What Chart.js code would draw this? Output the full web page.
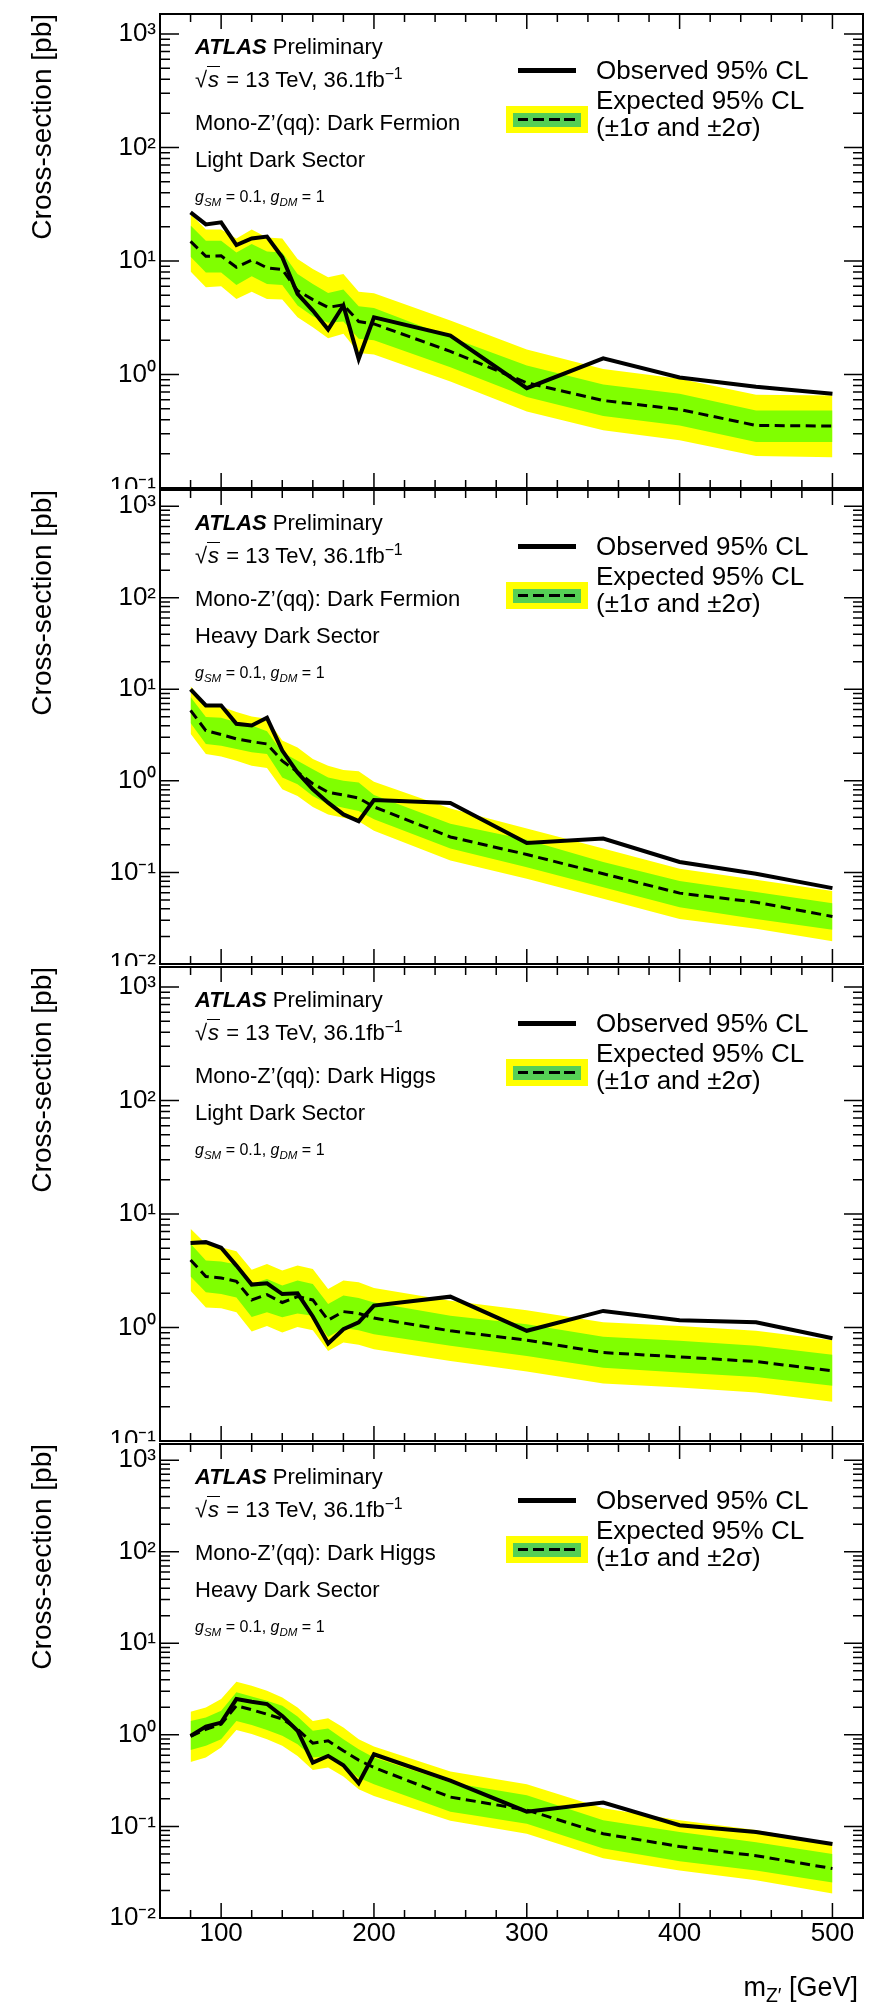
<!DOCTYPE html>
<html>
<head>
<meta charset="utf-8">
<title>Mono-Z'(qq) cross-section limits</title>
<script src="https://cdn.jsdelivr.net/npm/chart.js@4.4.1/dist/chart.umd.min.js"></script>
<style>
  body { margin: 0; background: #fff; }
  #page { position: relative; width: 878px; height: 2003px; overflow: hidden; background: #fff;
          font-family: "Liberation Sans", Arial, Helvetica, sans-serif; color: #000; }
  #page canvas { position: absolute; left: 0; }
  .txt { position: absolute; line-height: 1; white-space: nowrap; }
  .txt sub, .txt sup { font-size: 0.72em; line-height: 0; }
  .swatch { position: absolute; }
</style>
</head>
<body>
<div id="page"></div>
<script>
// mass points (GeV) and axis ticks
const massPoints = [80, 90, 100, 110, 120, 130, 140, 150, 160, 170, 180, 190, 200, 250, 300, 350, 400, 450, 500];
const xTickValues = [100, 200, 300, 400, 500];

// Dark Fermion, light dark sector
const obsFermionLight = [26.8, 21.0, 21.9, 13.8, 15.8, 16.4, 10.8, 5.13, 3.66, 2.49, 4.05, 1.37, 3.19, 2.20, 0.758, 1.39, 0.94, 0.78, 0.676];
const expFermionLight = [14.9, 11.0, 11.1, 8.8, 10.2, 8.7, 8.4, 5.48, 4.57, 3.91, 4.10, 2.93, 2.79, 1.60, 0.845, 0.59, 0.492, 0.356, 0.351];
const up1FermionLight = [20.5, 15.1, 15.1, 11.9, 14.1, 12.1, 11.9, 7.69, 6.28, 5.23, 5.6, 3.99, 3.85, 2.13, 1.20, 0.817, 0.676, 0.482, 0.482];
const dn1FermionLight = [10.9, 7.9, 7.9, 6.15, 7.33, 6.28, 6.15, 4.05, 3.26, 2.85, 2.93, 2.06, 2.0, 1.16, 0.632, 0.43, 0.356, 0.254, 0.254];
const up2FermionLight = [25.9, 18.9, 18.9, 15.8, 18.9, 16.1, 15.8, 10.4, 8.5, 7.18, 7.69, 5.37, 5.2, 2.99, 1.66, 1.12, 0.916, 0.662, 0.653];
const dn2FermionLight = [8.06, 5.87, 5.98, 4.63, 5.37, 4.63, 4.57, 3.19, 2.61, 2.09, 2.28, 1.55, 1.5, 0.867, 0.472, 0.322, 0.263, 0.191, 0.187];

// Dark Fermion, heavy dark sector
const obsFermionHeavy = [10.0, 6.67, 6.67, 4.2, 4.02, 4.88, 2.14, 1.23, 0.81, 0.578, 0.43, 0.363, 0.618, 0.574, 0.21, 0.234, 0.13, 0.0967, 0.0674];
const expFermionHeavy = [5.88, 3.54, 3.2, 2.87, 2.68, 2.53, 1.65, 1.25, 0.93, 0.75, 0.70, 0.65, 0.52, 0.244, 0.157, 0.0967, 0.0594, 0.0473, 0.033];
const up1FermionHeavy = [8.24, 4.97, 4.88, 4.37, 4.02, 3.48, 2.05, 1.66, 1.34, 1.09, 1.0, 0.96, 0.70, 0.341, 0.228, 0.13, 0.0804, 0.061, 0.0461];
const dn1FermionHeavy = [4.27, 2.53, 2.42, 2.23, 2.05, 1.96, 1.09, 0.92, 0.684, 0.554, 0.51, 0.468, 0.38, 0.182, 0.114, 0.069, 0.0417, 0.0311, 0.0236];
const up2FermionHeavy = [10.8, 6.96, 6.5, 5.63, 5.05, 4.76, 2.75, 2.32, 1.73, 1.46, 1.31, 1.27, 0.98, 0.498, 0.301, 0.182, 0.11, 0.0832, 0.0625];
const dn2FermionHeavy = [3.26, 1.96, 1.84, 1.66, 1.46, 1.38, 0.81, 0.684, 0.518, 0.43, 0.395, 0.363, 0.285, 0.135, 0.0853, 0.0515, 0.0311, 0.0242, 0.0177];

// Dark Higgs, light dark sector
const obsHiggsLight = [5.54, 5.65, 5.04, 3.51, 2.39, 2.45, 1.97, 2.0, 1.25, 0.722, 0.966, 1.11, 1.56, 1.87, 0.935, 1.40, 1.16, 1.11, 0.805];
const expHiggsLight = [3.94, 2.81, 2.73, 2.55, 1.75, 1.95, 1.66, 1.87, 1.75, 1.16, 1.38, 1.33, 1.21, 0.935, 0.773, 0.601, 0.551, 0.501, 0.415];
const up1HiggsLight = [5.46, 3.89, 3.81, 3.59, 2.42, 2.68, 2.34, 2.59, 2.42, 1.61, 1.91, 1.82, 1.66, 1.27, 1.07, 0.828, 0.763, 0.689, 0.574];
const dn1HiggsLight = [2.81, 2.04, 1.97, 1.84, 1.24, 1.36, 1.23, 1.33, 1.27, 0.826, 0.99, 0.947, 0.873, 0.689, 0.562, 0.443, 0.401, 0.367, 0.306];
const up2HiggsLight = [7.41, 5.46, 5.1, 4.7, 3.22, 3.63, 3.17, 3.51, 3.28, 2.18, 2.59, 2.50, 2.23, 1.72, 1.42, 1.11, 1.03, 0.935, 0.773];
const dn2HiggsLight = [2.11, 1.50, 1.48, 1.36, 0.922, 1.03, 0.903, 1.01, 0.947, 0.622, 0.736, 0.703, 0.643, 0.508, 0.409, 0.321, 0.296, 0.267, 0.222];

// Dark Higgs, heavy dark sector
const obsHiggsHeavy = [0.975, 1.23, 1.36, 2.46, 2.30, 2.17, 1.61, 1.11, 0.498, 0.589, 0.466, 0.296, 0.614, 0.316, 0.145, 0.182, 0.103, 0.0871, 0.0643];
const expHiggsHeavy = [0.959, 1.15, 1.31, 2.08, 1.88, 1.68, 1.49, 1.15, 0.81, 0.86, 0.67, 0.53, 0.44, 0.209, 0.151, 0.0832, 0.0603, 0.0479, 0.0347];
const up1HiggsHeavy = [1.42, 1.55, 1.83, 2.91, 2.63, 2.36, 2.08, 1.59, 1.11, 1.17, 0.897, 0.697, 0.565, 0.302, 0.219, 0.117, 0.0871, 0.0673, 0.0501];
const dn1HiggsHeavy = [0.685, 0.758, 0.897, 1.42, 1.28, 1.13, 0.975, 0.79, 0.565, 0.589, 0.458, 0.341, 0.288, 0.145, 0.107, 0.0575, 0.0417, 0.0331, 0.0244];
const up2HiggsHeavy = [1.79, 1.99, 2.46, 3.80, 3.44, 3.03, 2.56, 1.99, 1.42, 1.52, 1.2, 0.897, 0.745, 0.398, 0.288, 0.158, 0.117, 0.0912, 0.0661];
const dn2HiggsHeavy = [0.506, 0.565, 0.727, 1.13, 1.02, 0.897, 0.758, 0.589, 0.414, 0.439, 0.35, 0.254, 0.215, 0.115, 0.0832, 0.0449, 0.0331, 0.0258, 0.0185];

const FONT = '"Liberation Sans", Arial, Helvetica, sans-serif';
const YELLOW = '#ffff00';
const GREEN = '#80ff00';
const LEGEND_GREEN = '#55cf55';

Chart.defaults.font.family = FONT;
Chart.defaults.color = '#000';

// panel layout: canvas top/height, plot-frame top, y range
const panels = [
  { canvasTop: 0,    canvasHeight: 489, frameTop: 14,  yMin: 0.1,  model: 'Dark Fermion', sector: 'Light',
    obs: obsFermionLight, exp: expFermionLight, up1: up1FermionLight, dn1: dn1FermionLight, up2: up2FermionLight, dn2: dn2FermionLight },
  { canvasTop: 489,  canvasHeight: 477, frameTop: 490, yMin: 0.01, model: 'Dark Fermion', sector: 'Heavy',
    obs: obsFermionHeavy, exp: expFermionHeavy, up1: up1FermionHeavy, dn1: dn1FermionHeavy, up2: up2FermionHeavy, dn2: dn2FermionHeavy },
  { canvasTop: 966,  canvasHeight: 477, frameTop: 967, yMin: 0.1,  model: 'Dark Higgs', sector: 'Light',
    obs: obsHiggsLight, exp: expHiggsLight, up1: up1HiggsLight, dn1: dn1HiggsLight, up2: up2HiggsLight, dn2: dn2HiggsLight },
  { canvasTop: 1443, canvasHeight: 560, frameTop: 1444, yMin: 0.01, model: 'Dark Higgs', sector: 'Heavy',
    obs: obsHiggsHeavy, exp: expHiggsHeavy, up1: up1HiggsHeavy, dn1: dn1HiggsHeavy, up2: up2HiggsHeavy, dn2: dn2HiggsHeavy }
];
const FRAME_H = 474;
const Y_MAX = 1500;

const page = document.getElementById('page');

function toPoints(vals) {
  return vals.map((v, i) => ({ x: massPoints[i], y: v }));
}

function decadeLabel(v) {
  const sup = { '-': '\u207B', '0': '\u2070', '1': '\u00B9', '2': '\u00B2', '3': '\u00B3' };
  const e = Math.round(Math.log10(v));
  return '10' + String(e).split('').map(c => sup[c]).join('');
}

// ROOT-like frame with inward ticks on all four sides
const rootFrame = {
  id: 'rootFrame',
  afterDatasetsDraw(chart) {
    const { ctx, chartArea: a } = chart;
    const xs = chart.scales.x, ys = chart.scales.y;
    ctx.save();
    ctx.strokeStyle = '#000';
    ctx.lineWidth = 1.5;
    ctx.beginPath();
    const eMin = Math.round(Math.log10(ys.min));
    for (let e = eMin; e <= 3; e++) {
      for (let k = 1; k <= 9; k++) {
        const v = k * Math.pow(10, e);
        if (v > Y_MAX) continue;
        const py = ys.getPixelForValue(v);
        const len = k === 1 ? 19 : 10;
        ctx.moveTo(a.left, py); ctx.lineTo(a.left + len, py);
        ctx.moveTo(a.right, py); ctx.lineTo(a.right - len, py);
      }
    }
    for (let v = 80; v <= 500; v += 20) {
      const px = xs.getPixelForValue(v);
      const len = v % 100 === 0 ? 15 : 8;
      ctx.moveTo(px, a.bottom); ctx.lineTo(px, a.bottom - len);
      ctx.moveTo(px, a.top); ctx.lineTo(px, a.top + len);
    }
    ctx.stroke();
    ctx.lineWidth = 2;
    ctx.strokeRect(a.left, a.top, a.right - a.left, a.bottom - a.top);
    ctx.restore();
  }
};

function addText(html, left, capCenter, size) {
  const d = document.createElement('div');
  d.className = 'txt';
  d.style.left = left + 'px';
  d.style.top = (capCenter - size * 0.49) + 'px';
  d.style.fontSize = size + 'px';
  d.innerHTML = html;
  page.appendChild(d);
  return d;
}

function addBox(left, top, width, height, background) {
  const d = document.createElement('div');
  d.className = 'swatch';
  d.style.left = left + 'px';
  d.style.top = top + 'px';
  d.style.width = width + 'px';
  d.style.height = height + 'px';
  d.style.background = background;
  page.appendChild(d);
  return d;
}

panels.forEach((p, idx) => {
  const isBottom = idx === panels.length - 1;
  const canvas = document.createElement('canvas');
  canvas.width = 878;
  canvas.height = p.canvasHeight;
  canvas.style.top = p.canvasTop + 'px';
  page.appendChild(canvas);

  const padTop = p.frameTop - p.canvasTop;
  const below = p.canvasHeight - padTop - FRAME_H;

  new Chart(canvas.getContext('2d'), {
    type: 'line',
    data: {
      datasets: [
        { label: '+2 sigma', data: toPoints(p.up2), fill: 1, backgroundColor: YELLOW, borderWidth: 0, pointRadius: 0, order: 4 },
        { label: '-2 sigma', data: toPoints(p.dn2), fill: false, borderWidth: 0, pointRadius: 0, order: 4 },
        { label: '+1 sigma', data: toPoints(p.up1), fill: 3, backgroundColor: GREEN, borderWidth: 0, pointRadius: 0, order: 3 },
        { label: '-1 sigma', data: toPoints(p.dn1), fill: false, borderWidth: 0, pointRadius: 0, order: 3 },
        { label: 'Expected 95% CL', data: toPoints(p.exp), fill: false, borderColor: '#000', borderWidth: 3,
          borderDash: [10, 5.5], pointRadius: 0, tension: 0, order: 2 },
        { label: 'Observed 95% CL', data: toPoints(p.obs), fill: false, borderColor: '#000', borderWidth: 4,
          pointRadius: 0, tension: 0, order: 1 }
      ]
    },
    options: {
      responsive: false,
      animation: false,
      devicePixelRatio: 1,
      layout: { padding: { top: padTop, bottom: isBottom ? 0 : below, left: 0, right: 15 } },
      plugins: { legend: { display: false }, tooltip: { enabled: false } },
      scales: {
        x: {
          type: 'linear', min: 60, max: 520, display: isBottom,
          afterBuildTicks(s) { s.ticks = xTickValues.map(v => ({ value: v })); },
          afterFit(s) {
            if (isBottom) s.height = below;
            s.paddingLeft = 0; s.paddingRight = 0;
          },
          ticks: { font: { size: 26 }, color: '#000', padding: 0, maxRotation: 0, autoSkip: false },
          grid: { display: false, drawTicks: false },
          border: { display: false }
        },
        y: {
          type: 'logarithmic', min: p.yMin, max: Y_MAX,
          afterBuildTicks(s) {
            const t = [];
            for (let v = p.yMin; v <= 1000 * 1.001; v *= 10) t.push({ value: v });
            s.ticks = t;
          },
          afterFit(s) {
            s.width = 160;
            // let the end labels overflow (and get clipped) like the original pads
            s.paddingTop = 0; s.paddingBottom = 0;
          },
          ticks: { callback: v => decadeLabel(v), font: { size: 26 }, color: '#000', padding: 4, autoSkip: false },
          grid: { display: false, drawTicks: false },
          border: { display: false },
          title: { display: true, text: 'Cross-section [pb]', align: 'end', color: '#000',
                   font: { size: 28 }, padding: { top: 26 } }
        }
      }
    },
    plugins: [rootFrame]
  });

  // text annotations
  const T = p.frameTop;
  addText('<b><i>ATLAS</i></b> Preliminary', 195, T + 32.7, 22);
  addText('\u221A<span style="font-style:italic;border-top:1.5px solid #000;padding:0 1px">s</span> = 13 TeV, 36.1fb<sup>\u22121</sup>', 195, T + 65.5, 22);
  addText('Mono-Z\u2019(qq): ' + p.model, 195, T + 108.5, 22);
  addText(p.sector + ' Dark Sector', 195, T + 146, 22);
  addText('<i>g</i><sub><i>SM</i></sub> = 0.1, <i>g</i><sub><i>DM</i></sub> = 1', 195, T + 182.7, 16);

  // legend
  addBox(518, T + 53.5, 58, 5, '#000');
  addText('Observed 95% CL', 596, T + 56, 26);
  addBox(506, T + 92, 82, 27, YELLOW);
  addBox(513, T + 98.5, 68, 14.5, LEGEND_GREEN);
  addBox(518, T + 104.3, 58, 3, 'repeating-linear-gradient(to right, #000 0 10.5px, transparent 10.5px 15.5px)');
  addText('Expected 95% CL', 596, T + 85.5, 26);
  addText('(\u00B11\u03C3 and \u00B12\u03C3)', 596, T + 113, 26);

  if (isBottom) {
    const t = addText('m<sub>Z\u2032</sub> [GeV]', 858, 1987, 27);
    t.style.transform = 'translateX(-100%)';
  }
});
</script>
</body>
</html>
